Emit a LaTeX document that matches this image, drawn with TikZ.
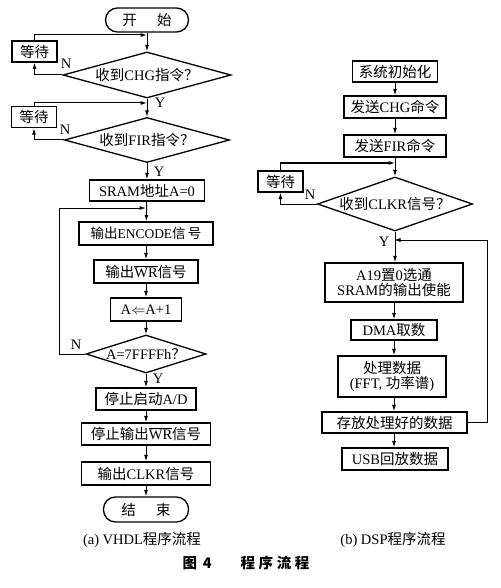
\documentclass[tikz,border=0pt]{standalone}
\usepackage{fontspec}
\setmainfont{Liberation Serif}
\newfontfamily\cjk{Noto Sans CJK SC}
\usetikzlibrary{shapes.geometric,arrows.meta}
\newcommand\zh[1]{{\cjk #1}}
\newcommand\ovl[1]{$\overline{\hbox{#1}}$}
\begin{document}
\begin{tikzpicture}[x=1pt,y=-1pt,
  font=\fontsize{14.5}{17}\selectfont,
  >={Latex[length=6.5pt,width=4pt]},
  box/.style={draw,line width=1.3pt,rectangle,inner xsep=2pt,inner ysep=1pt,align=center},
  term/.style={draw,line width=1.3pt,rectangle,rounded corners=12pt,inner sep=1pt},
  dec/.style={draw,line width=1.3pt,shape=diamond,inner sep=0pt},
  conn/.style={line width=1pt},
  arr/.style={conn,->},
  lbl/.style={inner sep=0pt}]
\useasboundingbox (0,0) rectangle (500,588);

% ---------------- left: VHDL ----------------
\node[term,minimum width=83pt,minimum height=24pt] (start) at (147,20) {\zh{开\hspace{1.4em}始}};
\node[box,minimum width=45pt,minimum height=21pt] (w1) at (34.5,51.5) {\zh{等待}};
\node[dec,minimum width=168pt,minimum height=46pt] (d1) at (147,75) {\makebox[0pt]{\zh{收到}CHG\zh{指令？}}};
\node[box,minimum width=45pt,minimum height=21pt] (w2) at (34,117) {\zh{等待}};
\node[dec,minimum width=165pt,minimum height=45pt] (d2) at (147,140) {\makebox[0pt]{\zh{收到}FIR\zh{指令？}}};
\node[box,minimum width=115pt,minimum height=21pt] (sram) at (147,190.5) {SRAM\zh{地址}A=0};
\node[box,minimum width=134pt,minimum height=23pt,font=\fontsize{13.5}{16}\selectfont] (enc) at (146,233.5) {\zh{输出}ENCODE\zh{信\,号}};
\node[box,minimum width=104pt,minimum height=23pt] (wr) at (146,271.5) {\zh{输出}\ovl{WR}\zh{信号}};
\node[box,minimum width=71pt,minimum height=23pt] (inc) at (146,309.5) {A$\Leftarrow$A+1};
\node[dec,minimum width=120pt,minimum height=38pt] (d3) at (146,354) {\makebox[0pt]{A=7FFFFh\zh{？}}};
\node[box,minimum width=100pt,minimum height=22pt] (stopad) at (146,399) {\zh{停止启动}A/D};
\node[box,minimum width=129pt,minimum height=22pt] (stopwr) at (146,434) {\zh{停止输出}\ovl{WR}\zh{信号}};
\node[box,minimum width=129pt,minimum height=23pt] (clkr) at (146,473.5) {\zh{输出}CLKR\zh{信号}};
\node[term,minimum width=85pt,minimum height=25pt] (end) at (146,509.5) {\zh{结\hspace{1.4em}束}};

\coordinate (j1) at (147,35);
\coordinate (j2) at (147,103);
\coordinate (j3) at (146,208);
\coordinate (k3) at (59,354);

\draw[arr] (start) -- (d1);
\draw[arr] (w1.north) |- (j1);
\draw[arr] (d1.west) -| (w1.south);
\draw[arr] (d1) -- (d2);
\draw[arr] (w2.north) |- (j2);
\draw[arr] (d2.west) -| (w2.south);
\draw[arr] (d2) -- (sram);
\draw[arr] (sram) -- (enc);
\draw[arr] (enc) -- (wr);
\draw[arr] (wr) -- (inc);
\draw[arr] (inc) -- (d3);
\draw[arr] (d3.west) -- (k3) |- (j3);
\draw[arr] (d3) -- (stopad);
\draw[arr] (stopad) -- (stopwr);
\draw[arr] (stopwr) -- (clkr);
\draw[arr] (clkr) -- (end);

\node[lbl] (n1) at (66,64) {N};
\node[lbl] (y1) at (160,103) {Y};
\node[lbl] (n2) at (65,130) {N};
\node[lbl] (y2) at (159,172) {Y};
\node[lbl] (n3) at (76,345) {N};
\node[lbl] (y3) at (158,379) {Y};

% ---------------- right: DSP ----------------
\node[box,minimum width=85pt,minimum height=21pt] (init) at (395,71.5) {\zh{系统初始化}};
\node[box,minimum width=102pt,minimum height=22pt] (chg) at (395,107) {\zh{发送}CHG\zh{命令}};
\node[box,minimum width=102pt,minimum height=22pt] (fir) at (395,146) {\zh{发送}FIR\zh{命令}};
\node[box,minimum width=45pt,minimum height=21pt] (w3) at (280.5,181.5) {\zh{等待}};
\node[dec,minimum width=155pt,minimum height=54pt] (d4) at (395,204) {\makebox[0pt]{\zh{收到}CLKR\zh{信号？}}};
\node[box,minimum width=138pt,minimum height=39pt,inner ysep=0pt] (a19) at (394,282.5) {A19\zh{置}0\zh{选通}\\[-2pt]SRAM\zh{的输出使能}};
\node[box,minimum width=86pt,minimum height=20pt] (dma) at (394,330) {DMA\zh{取数}};
\node[box,minimum width=108pt,minimum height=41pt,inner ysep=0pt] (proc) at (392,376.5) {\zh{处理数据}\\[-2pt](FFT, \zh{功率谱})};
\node[box,minimum width=145pt,minimum height=21pt] (store) at (394.5,422.5) {\zh{存放处理好的数据}};
\node[box,minimum width=106pt,minimum height=22pt] (usb) at (395,459) {USB\zh{回放数据}};

\coordinate (j4) at (395,163);
\coordinate (j5) at (394,240);
\coordinate (k5) at (487,422.5);

\draw[arr] (init) -- (chg);
\draw[arr] (chg) -- (fir);
\draw[arr] (fir) -- (d4);
\draw[arr] (w3.north) |- (j4);
\draw[arr] (d4.west) -| (w3.south);
\draw[arr] (d4.south) -- (a19.north -| d4.south);
\draw[arr] (store.east) -- (k5) |- (j5);
\draw[arr] (a19) -- (dma);
\draw[arr] (dma.south) -- (proc.north -| dma.south);
\draw[arr] (proc.south -| dma.south) -- (store.north -| dma.south);
\draw[arr] (store.south -| dma.south) -- (usb.north -| dma.south);

\node[lbl] (n4) at (310,195) {N};
\node[lbl] (y4) at (384,242) {Y};

% ---------------- captions ----------------
\node[lbl] (capa) at (142,540) {(a) VHDL\zh{程序流程}};
\node[lbl] (capb) at (393,540) {(b) DSP\zh{程序流程}};
\node[lbl] (fig) at (246,563) {\cjk\bfseries 图\hspace{0.4em}4\hspace{2em}程\hspace{0.25em}序\hspace{0.25em}流\hspace{0.25em}程};
\end{tikzpicture}
\end{document}
